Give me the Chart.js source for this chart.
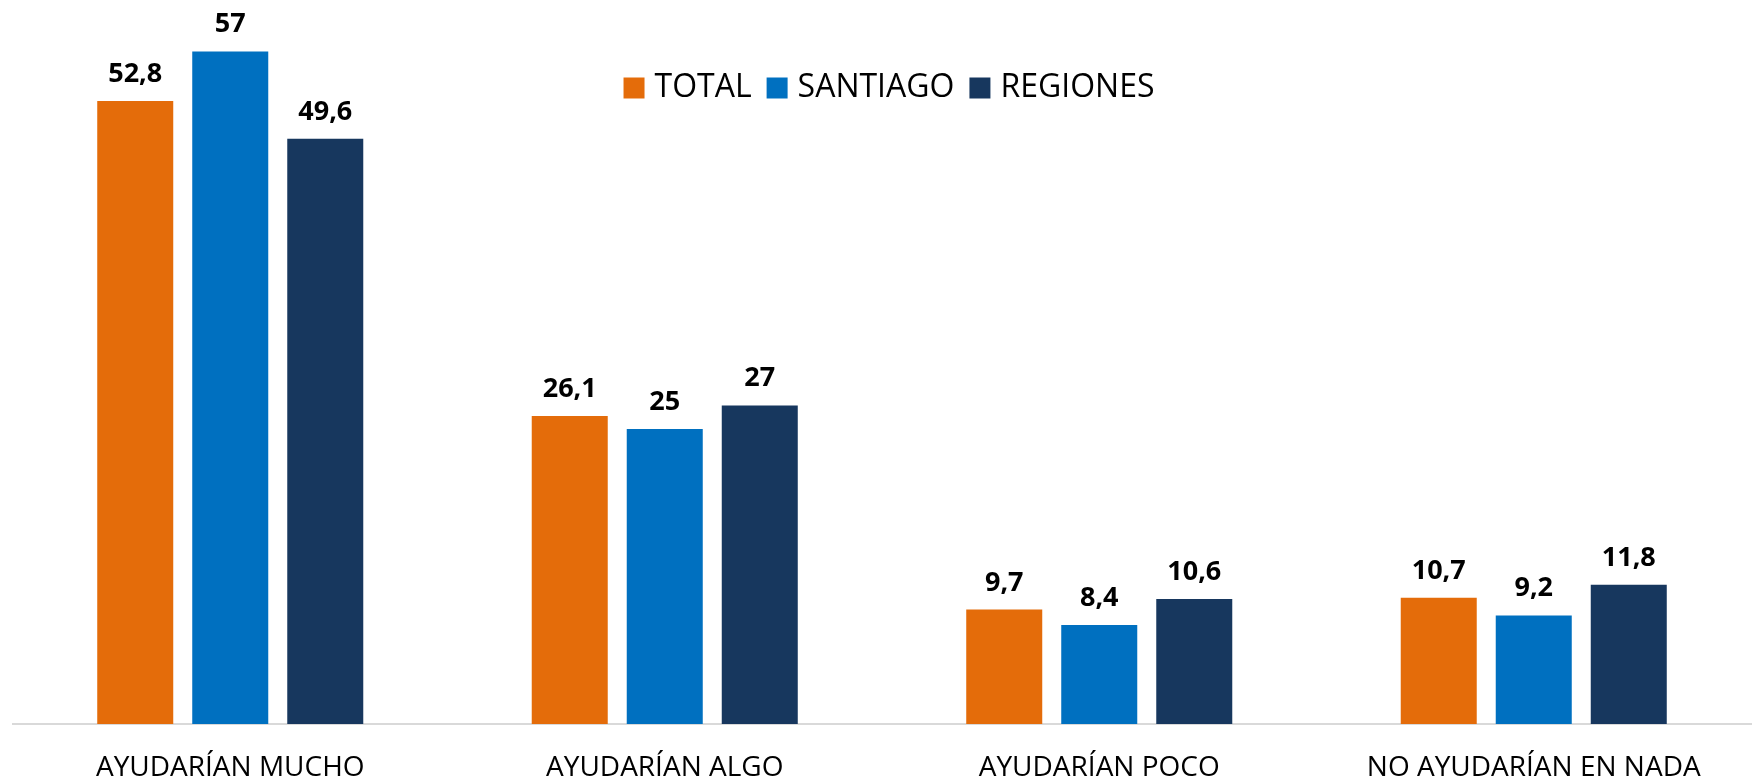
<!DOCTYPE html>
<html>
<head>
<meta charset="utf-8">
<script src="https://cdn.jsdelivr.net/npm/chart.js@4.4.1/dist/chart.umd.min.js"></script>
<style>
  html, body { margin: 0; padding: 0; background: #fff; }
  #contenedor { width: 1754px; height: 778px; }
</style>
</head>
<body>
<div id="contenedor"><canvas id="grafico"></canvas></div>
<script>
const categorias = ['AYUDARÍAN MUCHO', 'AYUDARÍAN ALGO', 'AYUDARÍAN POCO', 'NO AYUDARÍAN EN NADA'];
const total = [52.8, 26.1, 9.7, 10.7];
const santiago = [57, 25, 8.4, 9.2];
const regiones = [49.6, 27, 10.6, 11.8];

// Leyenda dentro del área del gráfico (no ocupa espacio en el layout)
const leyendaDentro = {
    id: 'leyendaDentro',
    beforeInit(chart) {
        const fitOriginal = chart.legend.fit;
        chart.legend.fit = function () {
            fitOriginal.call(this);
            this._altoReal = this.height;
            this.height = 0;
        };
    },
    afterLayout(chart) {
        const l = chart.legend;
        l.top = 51;
        l.height = l._altoReal;
        l.bottom = l.top + l.height;
        l.left += 10;
        l.right += 10;
    }
};

// Valores encima de cada barra
const etiquetas = {
    id: 'etiquetas',
    afterDatasetsDraw(chart) {
        const ctx = chart.ctx;
        ctx.save();
        ctx.font = 'bold 27px "Open Sans"';
        ctx.fillStyle = '#000';
        ctx.textAlign = 'center';
        ctx.textBaseline = 'alphabetic';
        chart.data.datasets.forEach((ds, i) => {
            chart.getDatasetMeta(i).data.forEach((barra, j) => {
                ctx.fillText(String(ds.data[j]).replace('.', ','), barra.x, barra.y - 19);
            });
        });
        ctx.restore();
    }
};

new Chart(document.getElementById('grafico'), {
    type: 'bar',
    data: {
        labels: categorias,
        datasets: [
            { label: 'TOTAL', data: total, backgroundColor: '#E46C0A' },
            { label: 'SANTIAGO', data: santiago, backgroundColor: '#0070C0' },
            { label: 'REGIONES', data: regiones, backgroundColor: '#17375E' }
        ]
    },
    options: {
        responsive: true,
        maintainAspectRatio: false,
        animation: false,
        layout: { padding: { top: 16, left: 13, right: 3, bottom: 0 } },
        datasets: { bar: { barPercentage: 0.8, categoryPercentage: 0.656, borderWidth: 0 } },
        plugins: {
            legend: {
                position: 'top',
                labels: {
                    usePointStyle: true,
                    pointStyle: 'rect',
                    boxWidth: 9,
                    boxHeight: 21,
                    padding: 21,
                    color: '#000',
                    font: { family: 'Open Sans', size: 32 }
                }
            },
            tooltip: { enabled: false }
        },
        scales: {
            x: {
                grid: { display: false, drawTicks: false },
                border: { color: '#d9d9d9', width: 2 },
                ticks: {
                    color: '#000',
                    padding: 33,
                    maxRotation: 0,
                    autoSkip: false,
                    font: { family: 'Open Sans', size: 28, lineHeight: 0.8 }
                },
                afterFit(eje) { eje.height = 54; }
            },
            y: { display: false, min: 0, max: 60 }
        }
    },
    plugins: [leyendaDentro, etiquetas]
});
</script>
</body>
</html>
